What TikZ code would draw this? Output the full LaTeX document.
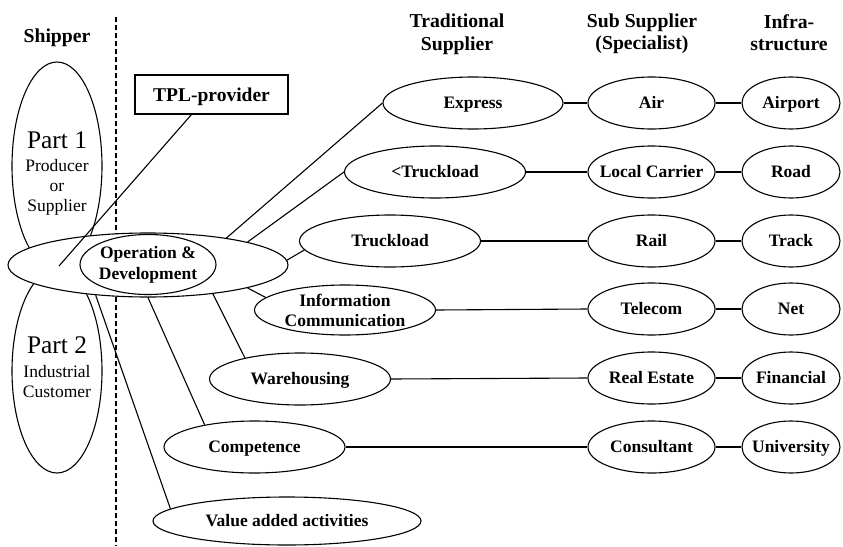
\documentclass[tikz,border=0pt]{standalone}
\usepackage{fontspec}
\setmainfont{Liberation Serif}
\usetikzlibrary{shapes.geometric}
\begin{document}
\begin{tikzpicture}[x=1pt,y=-1pt,
  ln/.style={line width=1.1pt},
  el/.style={ellipse, draw, line width=1.1pt, fill=white, inner xsep=-12pt, inner ysep=-6pt,
    font=\fontsize{17.5}{20.5}\selectfont\bfseries, align=center},
  one/.style={text height=11.5pt, text depth=0pt},
  col/.style={el, one, minimum width=127pt, minimum height=52pt},
  inf/.style={el, one, minimum width=98pt, minimum height=52pt},
  trad/.style={el, minimum width=181pt, minimum height=52pt},
  hd/.style={font=\fontsize{19.7}{22.5}\selectfont\bfseries, align=center, inner sep=0pt},
  sm/.style={font=\fontsize{17.5}{20.5}\selectfont, inner sep=0pt},
  big/.style={font=\fontsize{25.4}{26}\selectfont, inner sep=0pt}]
\useasboundingbox (0,0) rectangle (843,546);

% shipper column
\node[hd, anchor=base] (shipper) at (57,42) {Shipper};
\node[ellipse, draw, line width=1.1pt, minimum width=90pt, minimum height=208pt, inner sep=0pt] (part1) at (57,166) {};
\node[ellipse, draw, line width=1.1pt, minimum width=90pt, minimum height=204pt, inner sep=0pt] (part2) at (57,371) {};
\node[big, anchor=base] (p1t) at (57,148) {Part 1};
\node[sm, anchor=base] (p1a) at (57,171) {Producer};
\node[sm, anchor=base] (p1b) at (57,191) {or};
\node[sm, anchor=base] (p1c) at (57,211) {Supplier};
\node[big, anchor=base] (p2t) at (57,353) {Part 2};
\node[sm, anchor=base] (p2a) at (57,377) {Industrial};
\node[sm, anchor=base] (p2b) at (57,397) {Customer};

% dashed divider
\coordinate (dtop) at (116,17);
\coordinate (dbot) at (116,546);
\draw[line width=1.1pt, dash pattern=on 5pt off 3pt] (dtop) -- (dbot);

% central ellipses
\node[ellipse, draw, line width=1.1pt, fill=white, minimum width=280pt, minimum height=64pt, inner sep=0pt] (bigel) at (148,265) {};
\node[el, minimum width=136pt, minimum height=60pt, font=\fontsize{17.5}{21}\selectfont\bfseries] (opdev) at (148,264.5) {Operation \&\\Development};

% TPL provider
\node[draw, line width=1.1pt, minimum width=153pt, minimum height=39pt, inner sep=0pt,
  font=\fontsize{19.5}{22}\selectfont\bfseries, text height=13pt, text depth=0pt] (tpl) at (211.5,94.5) {TPL-provider};
\coordinate (tplend) at (59,266);
\draw[ln] (tpl.-135) -- (tplend);

% headers
\node[hd] (h1) at (457,34.4) {Traditional\\Supplier};
\node[hd] (h2) at (642,34) {Sub Supplier\\(Specialist)};
\node[hd] (h3) at (789,32.5) {Infra-\\structure};

% traditional suppliers
\node[trad, one, minimum width=180pt] (express) at (473,103) {Express};
\node[trad, one] (ltl) at (435,172) {<Truckload};
\node[trad, one] (tl) at (390,241) {Truckload};
\node[trad, minimum height=50pt, font=\fontsize{17.5}{20}\selectfont\bfseries] (info) at (345,310) {Information\\Communication};
\node[trad, one] (ware) at (300,379) {Warehousing};
\node[trad, one] (comp) at (254.5,447) {Competence};
\node[el, one, minimum width=268pt, minimum height=48pt] (value) at (287,521) {Value added activities};

% sub suppliers
\node[col] (air) at (651.5,103) {Air};
\node[col] (local) at (651.5,172) {Local Carrier};
\node[col] (rail) at (651.5,241) {Rail};
\node[col] (telecom) at (651.5,309) {Telecom};
\node[col] (real) at (651.5,378) {Real Estate};
\node[col] (cons) at (651.5,447) {Consultant};

% infrastructure
\node[inf] (airport) at (791,103) {Airport};
\node[inf] (road) at (791,172) {Road};
\node[inf] (track) at (791,241) {Track};
\node[inf] (net) at (791,309) {Net};
\node[inf] (fin) at (791,378) {Financial};
\node[inf] (univ) at (791,447) {University};

% spokes from the central ellipse
\draw[ln] (bigel.19.8) -- (express.west);
\draw[ln] (bigel.13.6) -- (ltl.west);
\draw[ln] (bigel.2.8) -- (tl.186);
\draw[ln] (bigel.-13.3) -- (info.171);
\draw[ln] (bigel.-24.1) -- (ware.159.8);
\draw[ln] (bigel.south) -- (comp.156);
\draw[ln] (bigel.210.3) -- (value.174.5);

% horizontal links
\foreach \a/\b in {express/air, ltl/local, tl/rail, info/telecom, ware/real, comp/cons,
                   air/airport, local/road, rail/track, telecom/net, real/fin, cons/univ}
  \draw[ln] (\a.east) -- (\b.west);
\end{tikzpicture}
\end{document}
